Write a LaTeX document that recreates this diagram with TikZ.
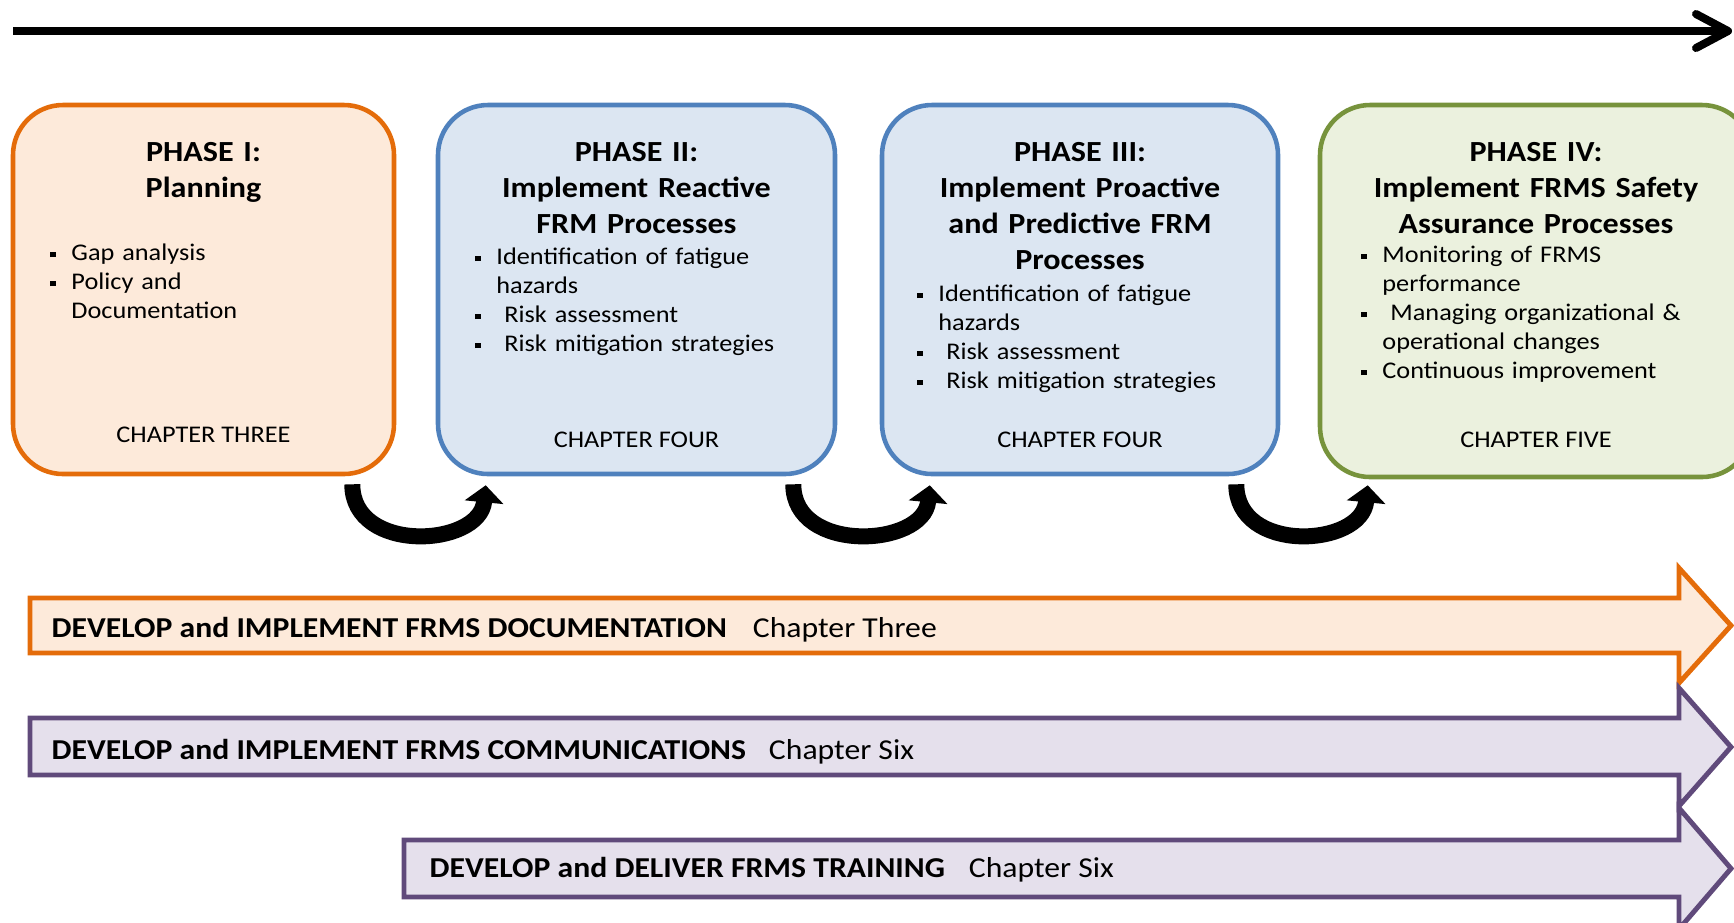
\documentclass[tikz,border=0pt]{standalone}
\usepackage{fontspec}
\setmainfont{Carlito}[FakeStretch=1.1]
\usepackage{tikz}
\usetikzlibrary{arrows.meta,positioning,calc}
\definecolor{planline}{HTML}{E46C0A}
\definecolor{planfill}{HTML}{FDEADA}
\definecolor{reactline}{HTML}{4F81BD}
\definecolor{reactfill}{HTML}{DCE6F2}
\definecolor{assureline}{HTML}{77933C}
\definecolor{assurefill}{HTML}{EBF1DE}
\definecolor{commline}{HTML}{604A7B}
\definecolor{commfill}{HTML}{E5E0EC}
\newcommand{\bulletmark}{\makebox[2.1mm][l]{\rule[0.15em]{0.55mm}{0.55mm}}}
\newcommand{\bulletgap}{\hspace*{2.1mm}}

\begin{document}
\begin{tikzpicture}[
  x=0.1mm,
  y=-0.1mm,
  phase/.style={rectangle, rounded corners=5mm, line width=1.3pt, minimum height=36.9mm, inner sep=0pt},
  phasetitle/.style={anchor=base, align=center, text width=40mm, inner sep=0pt, font=\fontsize{8.3}{10.24}\selectfont\bfseries},
  bullets/.style={anchor=base west, align=left, text width=38mm, inner sep=0pt, font=\fontsize{6.8}{8.25}\selectfont},
  chapter/.style={anchor=base, inner sep=0pt, font=\fontsize{6.8}{8}\selectfont},
  swing/.style={line width=1.6mm, -{Triangle[length=1.7mm, width=3.8mm]}},
  timeline/.style={line width=0.8mm, -{Straight Barb[length=3.2mm, width=3.4mm, round]}},
  band/.style={line width=1.4pt, line join=miter},
  bandtext/.style={anchor=base west, inner sep=0pt, font=\fontsize{8.2}{10}\selectfont},
]
\useasboundingbox (0,0) rectangle (1734,922);

% Time line
\coordinate (tstart) at (13,31);
\coordinate (tend) at (1732,31);
\draw[timeline] (tstart) -- (tend);

% Phase boxes
\node[phase, draw=planline, fill=planfill, minimum width=38.1mm] (p1) at (203.5,289.5) {};
\node[phase, draw=reactline, fill=reactfill, minimum width=39.7mm] (p2) at (636.5,289.5) {};
\node[phase, draw=reactline, fill=reactfill, minimum width=39.6mm] (p3) at (1080,289.5) {};
\node[phase, draw=assureline, fill=assurefill, minimum width=43.2mm, minimum height=37.2mm] (p4) at (1536,291) {};

% Titles
\node[phasetitle] (t1) at ($(p1.north)+(0,59)$) {PHASE I:\\Planning};
\node[phasetitle] (t2) at ($(p2.north)+(0,59)$) {PHASE II:\\Implement Reactive\\FRM Processes};
\node[phasetitle] (t3) at ($(p3.north)+(0,59)$) {PHASE III:\\Implement Proactive\\and Predictive FRM\\Processes};
\node[phasetitle] (t4) at ($(p4.north)+(0,59)$) {PHASE IV:\\Implement FRMS Safety\\Assurance Processes};

% Bullet lists
\node[bullets] (b1) at ($(p1.north west)+(39,158)$) {\bulletmark Gap analysis\\\bulletmark Policy and\\\bulletgap Documentation};
\node[bullets] (b2) at ($(p2.north west)+(39,162)$) {\bulletmark Identification of fatigue\\\bulletgap hazards\\\bulletmark\ Risk assessment\\\bulletmark\ Risk mitigation strategies};
\node[bullets] (b3) at ($(p3.north west)+(37,199)$) {\bulletmark Identification of fatigue\\\bulletgap hazards\\\bulletmark\ Risk assessment\\\bulletmark\ Risk mitigation strategies};
\node[bullets] (b4) at ($(p4.north west)+(43,160)$) {\bulletmark Monitoring of FRMS\\\bulletgap performance\\\bulletmark\ Managing organizational \&\\\bulletgap operational changes\\\bulletmark Continuous improvement};

% Chapters
\node[chapter] (c1) at ($(p1.north)+(0,340)$) {CHAPTER THREE};
\node[chapter] (c2) at ($(p2.north)+(0,345)$) {CHAPTER FOUR};
\node[chapter] (c3) at ($(p3.north)+(0,345)$) {CHAPTER FOUR};
\node[chapter] (c4) at ($(p4.north)+(0,345)$) {CHAPTER FIVE};

% Curved arrows between phases
\draw[swing] ($(p1.south east)+(-44,8)$) .. controls +(0,70) and +(-6,62) .. ($(p2.south west)+(50,9)$);
\draw[swing] ($(p2.south east)+(-44,8)$) .. controls +(0,70) and +(-6,62) .. ($(p3.south west)+(50,9)$);
\draw[swing] ($(p3.south east)+(-44,8)$) .. controls +(0,70) and +(-6,62) .. ($(p4.south west)+(50,6)$);

% Wide arrows
\draw[band, draw=planline, fill=planfill] (30,598) -- (1679,598) -- (1679,568) -- (1731,625.5) -- (1679,683) -- (1679,653) -- (30,653) -- cycle;
\draw[band, draw=commline, fill=commfill] (30,718) -- (1679,718) -- (1679,688) -- (1731,747) -- (1679,806) -- (1679,775) -- (30,775) -- cycle;
\draw[band, draw=commline, fill=commfill] (404,840) -- (1679,840) -- (1679,808) -- (1731,868.5) -- (1679,929) -- (1679,897) -- (404,897) -- cycle;

\node[bandtext] (doctxt) at (51,637) {\textbf{DEVELOP and IMPLEMENT FRMS DOCUMENTATION}\hspace{2.6mm}Chapter Three};
\node[bandtext] (comtxt) at (51,759) {\textbf{DEVELOP and IMPLEMENT FRMS COMMUNICATIONS}\hspace{2.3mm}Chapter Six};
\node[bandtext] (trntxt) at (429,877) {\textbf{DEVELOP and DELIVER FRMS TRAINING}\hspace{2.4mm}Chapter Six};

\end{tikzpicture}
\end{document}
